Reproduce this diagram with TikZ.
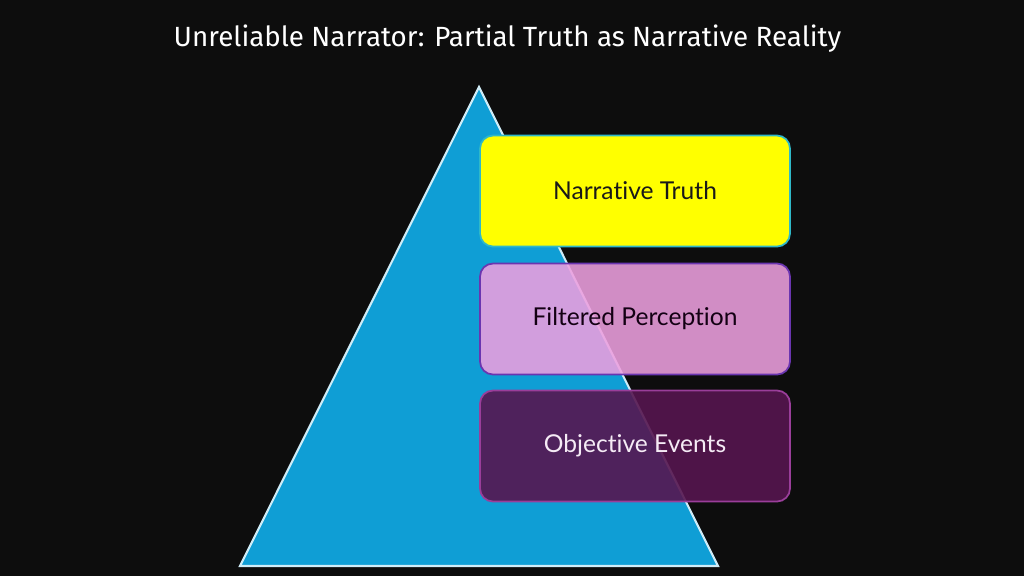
\documentclass[tikz,border=0pt]{standalone}
\usepackage{fontspec}
\setmainfont{Lato}[Ligatures=NoCommon]
\newfontfamily\titlefont{Fira Sans}
\definecolor{bgblack}{HTML}{0D0D0D}
\definecolor{triblue}{HTML}{0F9ED5}
\definecolor{truthyellow}{HTML}{FFFF00}
\definecolor{truthedge}{HTML}{2FB8C8}
\definecolor{filterpink}{RGB}{237,159,223}
\definecolor{filteredge}{HTML}{6A35B0}
\definecolor{eventplum}{RGB}{86,21,79}
\definecolor{eventedge}{HTML}{9A3E9A}
\tikzset{
  layer/.style={rectangle,rounded corners=0.13cm,minimum width=3.1cm,
                minimum height=1.11cm,line width=0.5pt,font=\fontsize{7}{8}\selectfont},
}

\begin{document}
\begin{tikzpicture}
  \useasboundingbox (0,0) rectangle (10.24,5.76);
  \fill[bgblack] (0,0) rectangle (10.24,5.76);
  \node (title) at (5.075,5.37) {\titlefont\fontsize{7.9}{9}\selectfont\color{white}Unreliable Narrator: Partial Truth as Narrative Reality};
  \coordinate (apex)  at (4.79,4.89);
  \coordinate (left)  at (2.40,0.10);
  \coordinate (right) at (7.18,0.10);
  \filldraw[fill=triblue,draw=white!80!triblue,line width=0.6pt] (apex) -- (left) -- (right) -- cycle;
  \begin{scope}[every node/.style={layer}]
     \node[fill=truthyellow,draw=truthedge,text=black!90]            (truth)  at (6.35,3.85) {Narrative Truth};
     \node[fill=filterpink,fill opacity=0.88,draw=filteredge,
           text opacity=1,text=black!85!violet]                       (filter) at (6.35,2.57) {Filtered Perception};
     \node[fill=eventplum,fill opacity=0.9,draw=eventedge,
           text opacity=1,text=white!92!violet]                       (events) at (6.35,1.30) {Objective Events};
  \end{scope}
\end{tikzpicture}
\end{document}
